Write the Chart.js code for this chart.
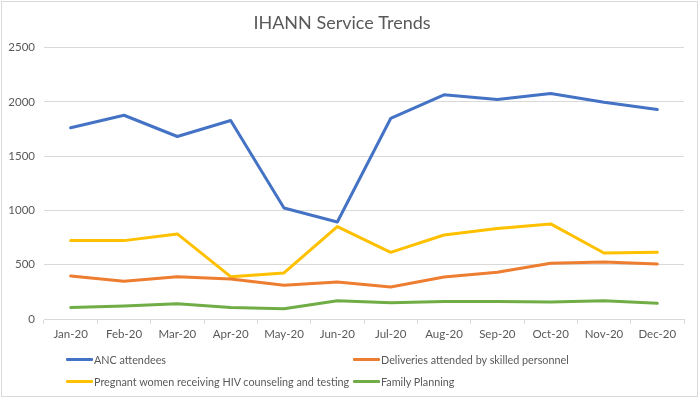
<!DOCTYPE html>
<html>
<head>
<meta charset="utf-8">
<script src="https://cdn.jsdelivr.net/npm/chart.js@4/dist/chart.umd.min.js"></script>
<style>
  html, body { margin: 0; padding: 0; background: #fff; }
  #wrap { position: relative; width: 700px; height: 399px; }
  #frame { position: absolute; left: 1px; top: 1px; width: 697px; height: 396px; border: 1px solid #d9d9d9; box-sizing: border-box; pointer-events: none; }
  canvas { position: absolute; left: 0; top: 0; }
  #legend { position: absolute; left: 0; top: 0; font-family: Lato, "Open Sans", sans-serif; font-size: 10.8px; color: #595959; }
  .item { position: absolute; display: flex; align-items: center; white-space: nowrap; height: 16px; }
  .swatch { width: 27px; height: 3px; margin-right: 1px; border-radius: 1px; }
</style>
</head>
<body>
<div id="wrap">
  <canvas id="c" width="700" height="399"></canvas>
  <div id="frame"></div>
  <div id="legend"></div>
</div>
<script>
const categories = ["Jan-20","Feb-20","Mar-20","Apr-20","May-20","Jun-20","Jul-20","Aug-20","Sep-20","Oct-20","Nov-20","Dec-20"];
const seriesNames = ["ANC attendees","Deliveries attended by skilled personnel","Pregnant women receiving HIV counseling and testing","Family Planning"];
const ancAttendees = [1761, 1877, 1681, 1828, 1023, 894, 1847, 2065, 2022, 2077, 1997, 1930];
const deliveries   = [396, 347, 390, 369, 310, 341, 295, 387, 430, 513, 525, 507];
const hivTesting   = [722, 722, 784, 390, 424, 851, 614, 774, 833, 876, 608, 614];
const familyPlanning = [107, 120, 141, 107, 95, 169, 150, 162, 162, 157, 169, 144];
const yTicks = [0, 500, 1000, 1500, 2000, 2500];

const colors = ["#4472C4", "#ED7D31", "#FFC000", "#70AD47"];
const seriesValues = [ancAttendees, deliveries, hivTesting, familyPlanning];

const FONT = "Lato, 'Open Sans', sans-serif";
const TXT = "#595959";

const datasets = seriesNames.map((n, i) => ({
  label: n,
  data: seriesValues[i],
  borderColor: colors[i],
  backgroundColor: colors[i],
  borderWidth: 3,
  pointRadius: 0,
  borderCapStyle: 'round',
  borderJoinStyle: 'round',
  tension: 0,
  fill: false
}));

const chart = new Chart(document.getElementById('c'), {
  type: 'line',
  data: { labels: categories, datasets },
  options: {
    responsive: false,
    animation: false,
    devicePixelRatio: 1,
    layout: { padding: { left: 0, right: 16, top: 0, bottom: 0 } },
    plugins: {
      legend: { display: false },
      tooltip: { enabled: false },
      title: {
        display: true,
        text: "IHANN Service Trends",
        color: TXT,
        font: { family: FONT, size: 18, weight: 'normal' },
        padding: { top: 12, bottom: 14 }
      }
    },
    scales: {
      x: {
        offset: true,
        grid: { offset: true, drawOnChartArea: false, drawTicks: true, tickLength: 5, color: "#d9d9d9" },
        border: { display: true, color: "#d9d9d9", width: 1 },
        ticks: { color: TXT, font: { family: FONT, size: 11.5 }, padding: 3, maxRotation: 0, autoSkip: false },
        afterFit: s => { s.height = 80; }
      },
      y: {
        min: 0, max: 2500,
        afterBuildTicks: s => { s.ticks = yTicks.map(v => ({ value: v })); },
        grid: { color: "#d9d9d9", drawTicks: false, lineWidth: 1 },
        border: { display: false },
        ticks: { color: TXT, font: { family: FONT, size: 11.5 }, padding: 9, callback: v => String(v) },
        afterFit: s => { s.width = 44; }
      }
    }
  }
});

// HTML legend built from the chart datasets, laid out in two columns
const legend = document.getElementById('legend');
const colX = [66, 353];
const rowY = [351, 373];
chart.data.datasets.forEach((ds, i) => {
  const it = document.createElement('div');
  it.className = 'item';
  it.style.left = colX[i % 2] + 'px';
  it.style.top = rowY[Math.floor(i / 2)] + 'px';
  const sw = document.createElement('span');
  sw.className = 'swatch';
  sw.style.background = ds.borderColor;
  const tx = document.createElement('span');
  tx.textContent = ds.label;
  it.appendChild(sw); it.appendChild(tx);
  legend.appendChild(it);
});
</script>
</body>
</html>
